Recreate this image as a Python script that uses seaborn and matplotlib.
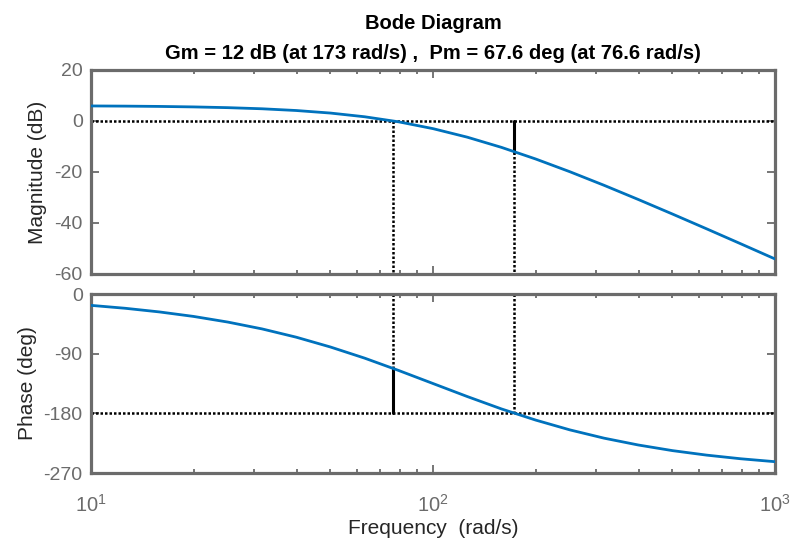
import matplotlib
matplotlib.use("Agg")
import matplotlib.pyplot as plt
import seaborn as sns
import pandas as pd
from matplotlib.ticker import FixedLocator, NullFormatter, LogLocator

# Frequency response of the open loop, sampled ten points per decade
freq = [10.0, 12.59, 15.85, 19.95, 25.12, 31.62, 39.81, 50.12, 63.10, 79.43,
        100.0, 125.9, 158.5, 199.5, 251.2, 316.2, 398.1, 501.2, 631.0, 794.3, 1000.0]
mag_db = [5.89, 5.82, 5.70, 5.51, 5.22, 4.78, 4.10, 3.10, 1.65, -0.35,
          -3.01, -6.35, -10.35, -14.90, -19.90, -25.22, -30.78, -36.49, -42.30, -48.18, -54.11]
phase_deg = [-17.1, -21.5, -27.0, -33.8, -42.3, -52.6, -65.1, -79.9, -96.7, -115.4,
             -135.0, -154.6, -173.3, -190.1, -204.9, -217.4, -227.7, -236.2, -243.0, -248.5, -252.9]

# Stability margins
gm_db = 12.0        # gain margin
gm_freq = 173.0     # phase crossover frequency
pm_deg = 67.6       # phase margin
pm_freq = 76.6      # gain crossover frequency

mag_ticks = [20, 0, -20, -40, -60]
phase_ticks = [0, -90, -180, -270]
freq_ticks = [10, 100, 1000]
freq_ticklabels = [r"$10^{1}$", r"$10^{2}$", r"$10^{3}$"]

df = pd.DataFrame({"freq": freq, "mag": mag_db, "phase": phase_deg})

sns.set_theme(style="white")
plt.rcParams["font.family"] = ["Liberation Sans", "DejaVu Sans"]
plt.rcParams["mathtext.fontset"] = "custom"
plt.rcParams["mathtext.rm"] = "Liberation Sans"
plt.rcParams["mathtext.it"] = "Liberation Sans"
plt.rcParams["axes.unicode_minus"] = False

GRAY = "#6b6b6b"
LABEL = "#262626"
BLUE = "#0072BD"
DOT = (0, (1, 0.8))
DOT_LW = 1.8
MARGIN_LW = 2.2

fig = plt.figure(figsize=(7.94, 5.39), dpi=100)
fig.patch.set_facecolor("white")
ax1 = fig.add_axes([0.1146, 0.4917, 0.8615, 0.3785])
ax2 = fig.add_axes([0.1146, 0.1224, 0.8615, 0.3321])

for ax in (ax1, ax2):
    ax.set_facecolor("white")
    ax.set_xscale("log")
    ax.set_xlim(10, 1000)
    for sp in ax.spines.values():
        sp.set_color(GRAY)
        sp.set_linewidth(2.3)
        sp.set_visible(True)
    ax.xaxis.set_major_locator(FixedLocator(freq_ticks))
    ax.xaxis.set_minor_locator(LogLocator(base=10, subs=range(2, 10)))
    ax.xaxis.set_minor_formatter(NullFormatter())
    ax.tick_params(axis="both", which="major", direction="in", length=5.5, width=1.3,
                   color=GRAY, labelcolor=GRAY, labelsize=14,
                   top=True, right=True, bottom=True, left=True)
    ax.tick_params(axis="x", which="minor", direction="in", length=3.2, width=1.3,
                   color=GRAY, top=True, bottom=True)
    ax.tick_params(axis="y", which="major", pad=6)

# Magnitude
ax1.axhline(0, color="black", lw=DOT_LW, ls=DOT, zorder=2)
ax1.plot([pm_freq, pm_freq], [0, -60], color="black", lw=DOT_LW, ls=DOT, zorder=2)
ax1.plot([gm_freq, gm_freq], [-gm_db, -60], color="black", lw=DOT_LW, ls=DOT, zorder=2)
ax1.plot([gm_freq, gm_freq], [0, -gm_db], color="black", lw=MARGIN_LW, zorder=2)
sns.lineplot(data=df, x="freq", y="mag", ax=ax1, color=BLUE, lw=2.0, zorder=3)
ax1.set_ylim(-60, 20)
ax1.set_yticks(mag_ticks)
ax1.set_yticklabels([str(t) for t in mag_ticks])
ax1.set_xticklabels([])
ax1.set_xlabel("")
ax1.set_ylabel("Magnitude (dB)", fontsize=15, color=LABEL, labelpad=5)

# Phase
ax2.axhline(-180, color="black", lw=DOT_LW, ls=DOT, zorder=2)
ax2.plot([gm_freq, gm_freq], [0, -180], color="black", lw=DOT_LW, ls=DOT, zorder=2)
ax2.plot([pm_freq, pm_freq], [0, -180 + pm_deg], color="black", lw=DOT_LW, ls=DOT, zorder=2)
ax2.plot([pm_freq, pm_freq], [-180, -180 + pm_deg], color="black", lw=MARGIN_LW, zorder=2)
sns.lineplot(data=df, x="freq", y="phase", ax=ax2, color=BLUE, lw=2.0, zorder=3)
ax2.set_ylim(-270, 0)
ax2.set_yticks(phase_ticks)
ax2.set_yticklabels([str(t) for t in phase_ticks])
ax2.set_xticklabels(freq_ticklabels)
ax2.tick_params(axis="x", which="major", pad=15, labelsize=14.5)
ax2.set_ylabel("Phase (deg)", fontsize=15, color=LABEL, labelpad=5)
ax2.set_xlabel("Frequency  (rad/s)", fontsize=15, color=LABEL, labelpad=2.5)

ax1.set_title("Bode Diagram\nGm = %g dB (at %g rad/s) ,  Pm = %g deg (at %g rad/s)"
              % (gm_db, gm_freq, pm_deg, pm_freq),
              fontsize=14.5, fontweight="bold", color="black", pad=8, linespacing=1.75)

fig.savefig("out.png", dpi=100, facecolor="white")
